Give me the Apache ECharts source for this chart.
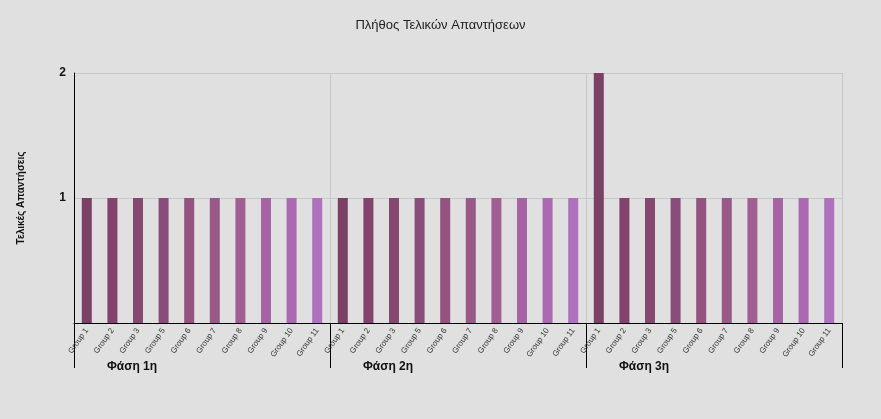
<!DOCTYPE html>
<html>
<head>
<meta charset="utf-8">
<script src="https://cdn.jsdelivr.net/npm/echarts@6/dist/echarts.min.js"></script>
<style>body{margin:0;background:#e0e0e0}</style>
</head>
<body>
<div id="chart" style="width:881px;height:419px"></div>
<script>
var groups = ['Group 1','Group 2','Group 3','Group 5','Group 6','Group 7','Group 8','Group 9','Group 10','Group 11'];
var phases = ['Φάση 1η','Φάση 2η','Φάση 3η'];
var phase1 = [1,1,1,1,1,1,1,1,1,1];
var phase2 = [1,1,1,1,1,1,1,1,1,1];
var phase3 = [2,1,1,1,1,1,1,1,1,1];
var colors = ['#7c3f66','#80436c','#864870','#8a4c78','#95527f','#9a5888','#a05e94','#a863a4','#ac68b0','#b070c0'];

var cats = [], vals = [];
[phase1, phase2, phase3].forEach(function (arr) {
  arr.forEach(function (v, i) {
    cats.push(groups[i]);
    vals.push({ value: v, itemStyle: { color: colors[i] } });
  });
});

var myChart = echarts.init(document.getElementById('chart'));
var option = {
  backgroundColor: '#e0e0e0',
  title: {
    text: 'Πλήθος Τελικών Απαντήσεων',
    left: 'center', top: 14,
    textStyle: { fontSize: 13, fontWeight: 'normal', color: '#222' }
  },
  grid: { left: 74, right: 39, top: 73, bottom: 96 },
  xAxis: [
    {
      type: 'category', data: cats,
      axisLine: { lineStyle: { color: '#000' } },
      axisTick: { show: false },
      axisLabel: { interval: 0, rotate: 55, fontSize: 8, color: '#333', margin: 6 }
    },
    {
      type: 'category', data: phases, position: 'bottom',
      axisLine: { show: false },
      axisTick: { show: true, length: 45, lineStyle: { color: '#000' } },
      splitLine: { show: true, lineStyle: { color: '#c8c8c8' } },
      axisLabel: { margin: 38, fontSize: 12, fontWeight: 'bold', color: '#111', padding: [0, 140, 0, 0] }
    }
  ],
  yAxis: {
    type: 'value', min: 0, max: 2, interval: 1,
    name: 'Τελικές Απαντήσεις', nameLocation: 'middle', nameGap: 48,
    nameTextStyle: { fontSize: 10, fontWeight: 'bold', color: '#111' },
    axisLine: { show: true, lineStyle: { color: '#000' } },
    axisLabel: { fontSize: 12, fontWeight: 'bold', color: '#111', formatter: function (v) { return v === 0 ? '' : v; } },
    splitLine: { lineStyle: { color: '#c8c8c8' } }
  },
  series: [{ type: 'bar', data: vals, barWidth: 10, xAxisIndex: 0 }]
};
option && myChart.setOption(option);
</script>
</body>
</html>
